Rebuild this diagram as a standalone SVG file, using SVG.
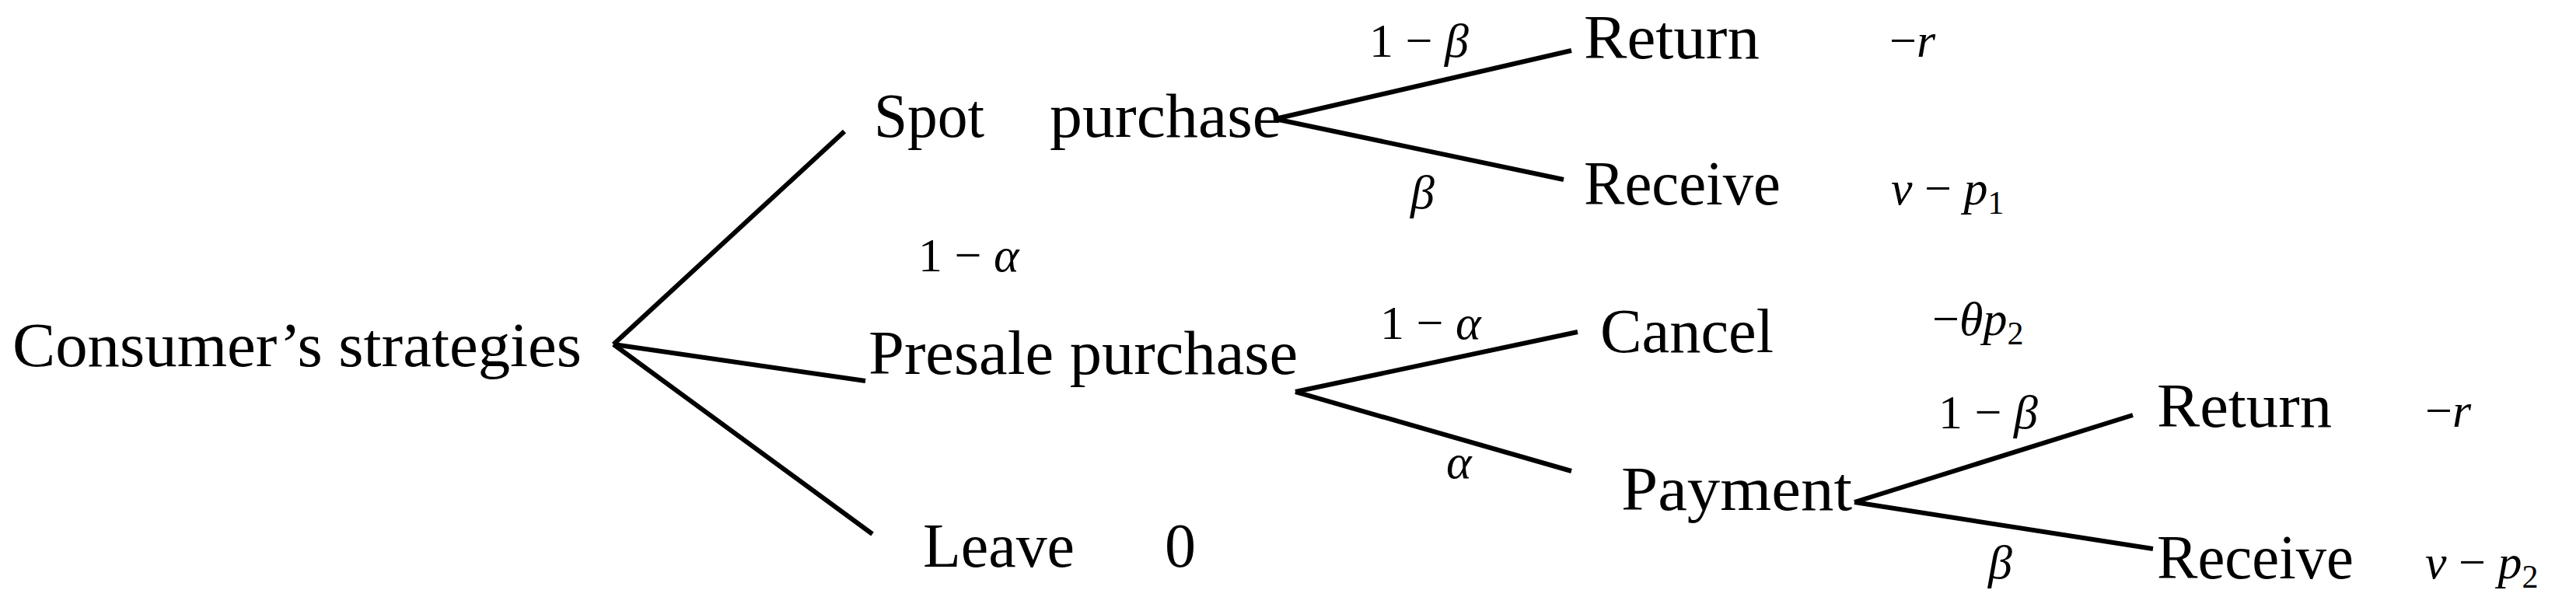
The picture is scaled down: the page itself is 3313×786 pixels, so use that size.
<svg xmlns="http://www.w3.org/2000/svg" width="3313" height="786" viewBox="0 0 3313 786">
<style>
.t{font-family:"Liberation Serif",serif;font-size:80px;fill:#000}
.m{font-family:"Liberation Serif",serif;font-size:62px;fill:#000}
.i{font-style:italic}
.s{font-size:42px}
line{stroke:#000;stroke-width:6;stroke-linecap:butt}
</style>
<rect width="3313" height="786" fill="#fff"/>
<g id="connectors">
<line x1="789" y1="443" x2="1086" y2="169"/>
<line x1="789" y1="443" x2="1113" y2="490" stroke-width="8"/>
<line x1="789" y1="443" x2="1122" y2="687"/>
<line x1="1640" y1="153" x2="2021" y2="65"/>
<line x1="1640" y1="153" x2="2011" y2="231"/>
<line x1="1666" y1="504" x2="2029" y2="427"/>
<line x1="1666" y1="504" x2="2021" y2="606"/>
<line x1="2385" y1="646" x2="2743" y2="534"/>
<line x1="2385" y1="646" x2="2769" y2="706"/>
</g>
<g id="root"><text class="t" x="16" y="471" textLength="732" lengthAdjust="spacingAndGlyphs">Consumer’s strategies</text></g>
<g id="spot"><text class="t" x="1124" y="176" textLength="142" lengthAdjust="spacingAndGlyphs">Spot</text><text class="t" x="1350" y="176" textLength="298" lengthAdjust="spacingAndGlyphs">purchase</text></g>
<g id="presale"><text class="t" x="1117" y="481" textLength="552" lengthAdjust="spacingAndGlyphs">Presale purchase</text></g>
<g id="leave"><text class="t" x="1187" y="729" textLength="195" lengthAdjust="spacingAndGlyphs">Leave</text><text class="t" x="1498" y="729">0</text></g>
<g id="return1"><text class="t" x="2037" y="75" textLength="226" lengthAdjust="spacingAndGlyphs">Return</text><text class="m" x="2430" y="73">−<tspan class="i">r</tspan></text></g>
<g id="receive1"><text class="t" x="2037" y="263" textLength="253" lengthAdjust="spacingAndGlyphs">Receive</text><text class="m" x="2432" y="263"><tspan class="i">v</tspan> − <tspan class="i">p</tspan><tspan class="s" dy="12">1</tspan></text></g>
<g id="cancel"><text class="t" x="2058" y="453" textLength="223" lengthAdjust="spacingAndGlyphs">Cancel</text><text class="m" x="2485" y="431">−<tspan class="i">θp</tspan><tspan class="s" dy="12">2</tspan></text></g>
<g id="payment"><text class="t" x="2085" y="656" textLength="297" lengthAdjust="spacingAndGlyphs">Payment</text></g>
<g id="return2"><text class="t" x="2774" y="549" textLength="225" lengthAdjust="spacingAndGlyphs">Return</text><text class="m" x="3119" y="549">−<tspan class="i">r</tspan></text></g>
<g id="receive2"><text class="t" x="2774" y="744" textLength="253" lengthAdjust="spacingAndGlyphs">Receive</text><text class="m" x="3119" y="744"><tspan class="i">v</tspan> − <tspan class="i">p</tspan><tspan class="s" dy="12">2</tspan></text></g>
<g id="labels">
<text class="m" x="1181" y="349">1 − <tspan class="i">α</tspan></text>
<text class="m" x="1761" y="73">1 − <tspan class="i">β</tspan></text>
<text class="m i" x="1814" y="268">β</text>
<text class="m" x="1775" y="436">1 − <tspan class="i">α</tspan></text>
<text class="m i" x="1860" y="615">α</text>
<text class="m" x="2493" y="551">1 − <tspan class="i">β</tspan></text>
<text class="m i" x="2557" y="744">β</text>
</g>
</svg>
